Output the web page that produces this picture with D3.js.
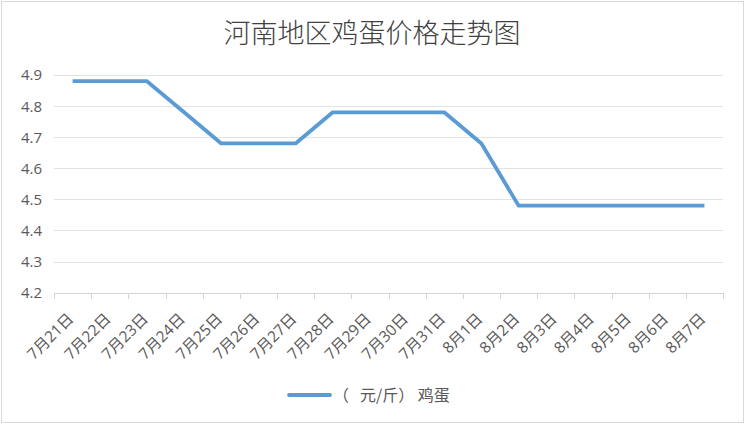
<!DOCTYPE html>
<html><head><meta charset="utf-8">
<script src="https://cdn.jsdelivr.net/npm/d3@7/dist/d3.min.js"></script>
<style>body{margin:0;background:#fff}svg{display:block}</style>
</head><body><svg id="c" width="746" height="425"></svg>
<script>
const categories = ["7月21日","7月22日","7月23日","7月24日","7月25日","7月26日","7月27日","7月28日","7月29日","7月30日","7月31日","8月1日","8月2日","8月3日","8月4日","8月5日","8月6日","8月7日"];
const eggPrices = [4.88,4.88,4.88,4.78,4.68,4.68,4.68,4.78,4.78,4.78,4.78,4.68,4.48,4.48,4.48,4.48,4.48,4.48];
const yTicks = [4.2,4.3,4.4,4.5,4.6,4.7,4.8,4.9];
const seriesUnit = "（";
const seriesRest = "元/斤） 鸡蛋";
const title = "河南地区鸡蛋价格走势图";

const svg = d3.select("#c");
const font = "'Open Sans','Noto Sans CJK SC',sans-serif";
const cjk = "'Noto Sans CJK SC','Noto Sans',sans-serif";
svg.append("rect").attr("x",1.5).attr("y",1.5).attr("width",742).attr("height",421)
  .attr("fill","#fff").attr("stroke","#d9d9d9").attr("stroke-width",1);

const L=54, R=723, T=75, B=292.7;
const x = d3.scaleBand().domain(categories).range([L,R]);
const y = d3.scaleLinear().domain([4.2,4.9]).range([B,T]);

svg.append("text").attr("x",372).attr("y",33).attr("dy","0.36em")
  .attr("text-anchor","middle").attr("font-family",cjk).attr("font-size",27).attr("font-weight",300)
  .attr("fill","#404040").text(title);

// grid
svg.append("g").selectAll("line").data(yTicks.filter(d=>d>4.2)).join("line")
  .attr("x1",L).attr("x2",R).attr("y1",d=>Math.round(y(d))+0.5).attr("y2",d=>Math.round(y(d))+0.5)
  .attr("stroke","#e3e3e3").attr("stroke-width",1);

// y labels
svg.append("g").selectAll("text").data(yTicks).join("text")
  .attr("x",42).attr("y",d=>y(d)).attr("dy","0.36em").attr("text-anchor","end")
  .attr("font-family",font).attr("font-size",15).attr("fill","#595959")
  .text(d=>d3.format(".1f")(d));

// x axis
const xAxis = d3.axisBottom(x).tickSize(0).tickFormat("");
const gx = svg.append("g").attr("transform",`translate(0,${Math.round(B)+0.5})`).call(xAxis);
gx.select(".domain").attr("stroke","#d4d4d4").attr("d",`M${L},0H${R}`);
const bounds = categories.map(c=>x(c)).concat([R]);
svg.append("g").selectAll("line").data(bounds).join("line")
  .attr("x1",d=>Math.round(d)+0.5).attr("x2",d=>Math.round(d)+0.5)
  .attr("y1",Math.round(B)).attr("y2",Math.round(B)+6)
  .attr("stroke","#d4d4d4");

svg.append("g").selectAll("text").data(categories).join("text")
  .attr("transform",d=>`translate(${x(d)+x.bandwidth()/2+2},${B+27}) rotate(-45)`)
  .attr("text-anchor","end").attr("font-family",font).attr("font-size",15.5)
  .attr("fill","#595959").text(d=>d);

// line
const line = d3.line().x((d,i)=>x(categories[i])+x.bandwidth()/2).y(d=>y(d));
svg.append("path").datum(eggPrices).attr("d",line).attr("fill","none")
  .attr("stroke","#5b9bd5").attr("stroke-width",3.8).attr("stroke-linejoin","round").attr("stroke-linecap","butt");

// legend
svg.append("line").attr("x1",289).attr("x2",330).attr("y1",395).attr("y2",395)
  .attr("stroke","#5b9bd5").attr("stroke-width",3.8).attr("stroke-linecap","round");
const lt = svg.append("text").attr("x",333).attr("y",395).attr("dy","0.36em")
  .attr("font-family",cjk).attr("font-size",16).attr("fill","#595959");
lt.append("tspan").text(seriesUnit);
lt.append("tspan").attr("dx",11).text(seriesRest);
</script></body></html>
